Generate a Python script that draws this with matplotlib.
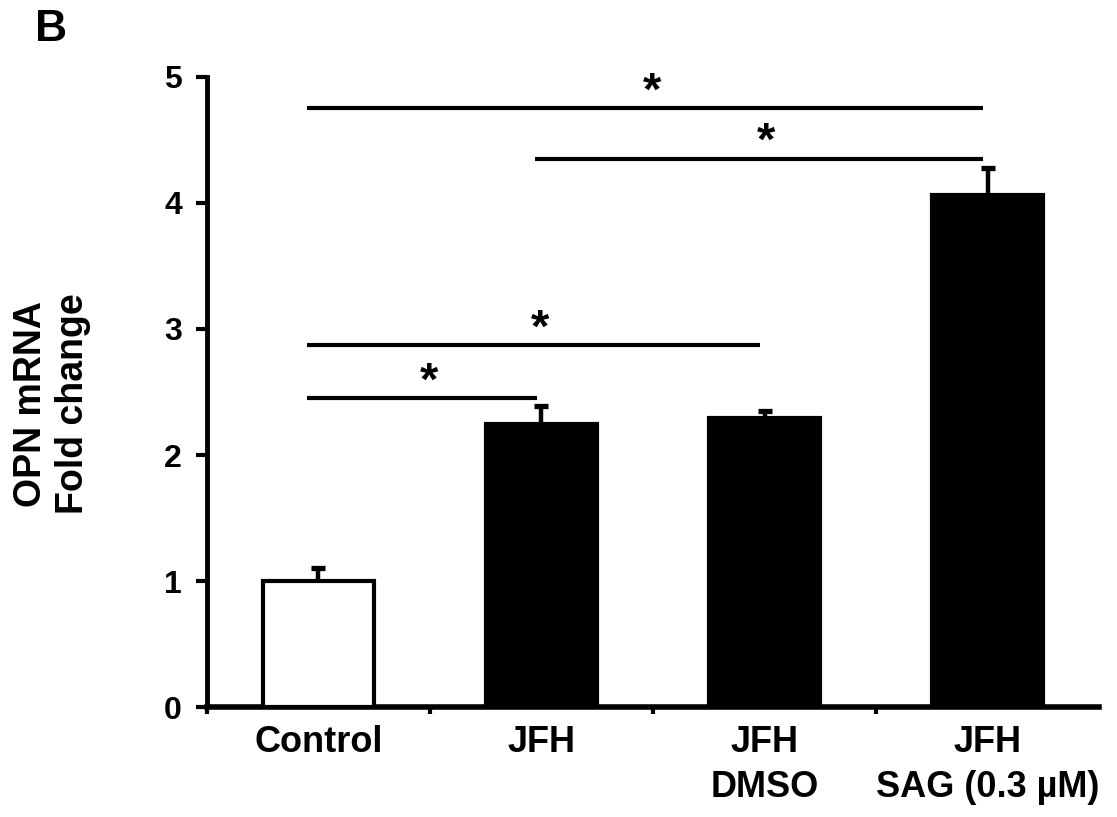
import numpy as np
import matplotlib.pyplot as plt

plt.rcParams['font.family'] = ['Liberation Sans', 'DejaVu Sans']
plt.rcParams['font.weight'] = 'bold'

# data
groups = ['Control', 'JFH', 'JFH\nDMSO', 'JFH\nSAG (0.3 µM)']
fold_change = [1.00, 2.25, 2.29, 4.06]
sem = [0.10, 0.14, 0.06, 0.22]
bar_colors = ['white', 'black', 'black', 'black']

# significance brackets: (first group, last group, height)
sig_pairs = [(0, 3, 4.75), (1, 3, 4.35), (0, 2, 2.87), (0, 1, 2.45)]

x = np.arange(len(groups))

fig = plt.figure(figsize=(11.17, 8.17), dpi=100)
ax = fig.add_axes([0.1853, 0.1346, 0.7986, 0.7712])

# error bars, upper side only
eb = ax.errorbar(x, fold_change, yerr=[np.zeros(len(sem)), sem], fmt='none',
                 ecolor='black', elinewidth=3.2, capsize=4.8, capthick=3.8, zorder=2)
eb[1][0].set_visible(False)

ax.bar(x, fold_change, width=0.5, color=bar_colors, edgecolor='black',
       linewidth=3, zorder=3)

# significance lines and stars
for a, b, h in sig_pairs:
    x1 = a - 0.05 if a == 0 else a - 0.03
    x2 = b - 0.02
    ax.plot([x1, x2], [h, h], color='black', lw=3, solid_capstyle='butt')
    ax.text((x1 + x2) / 2 + 0.03, h - 0.05, '*', ha='center', va='bottom',
            fontsize=34, fontweight='bold')

ax.set_xlim(-0.5, 3.5)
ax.set_ylim(0, 5)
ax.set_yticks(range(6))
ax.tick_params(axis='y', labelsize=23, length=8, width=3, direction='out', pad=10)

# category ticks at boundaries, labels at bar centres
ax.set_xticks([-0.5, 0.5, 1.5, 2.5])
ax.set_xticklabels([])
ax.set_xticks(x, minor=True)
ax.set_xticklabels(groups, minor=True, fontsize=26, fontweight='bold',
                   linespacing=1.38)
ax.tick_params(axis='x', which='major', length=5, width=3, direction='out')
ax.tick_params(axis='x', which='minor', length=0, pad=13)

for lab in ax.get_yticklabels():
    lab.set_fontweight('bold')

ax.spines['top'].set_visible(False)
ax.spines['right'].set_visible(False)
ax.spines['left'].set_linewidth(3.5)
ax.spines['bottom'].set_linewidth(4)

ax.set_ylabel('OPN mRNA\nFold change', fontsize=27, fontweight='bold')
ax.yaxis.set_label_coords(-0.13, 0.481)

fig.text(0.031, 0.989, 'B', fontsize=32, fontweight='bold', ha='left', va='top')

fig.savefig('out.png', dpi=100)
